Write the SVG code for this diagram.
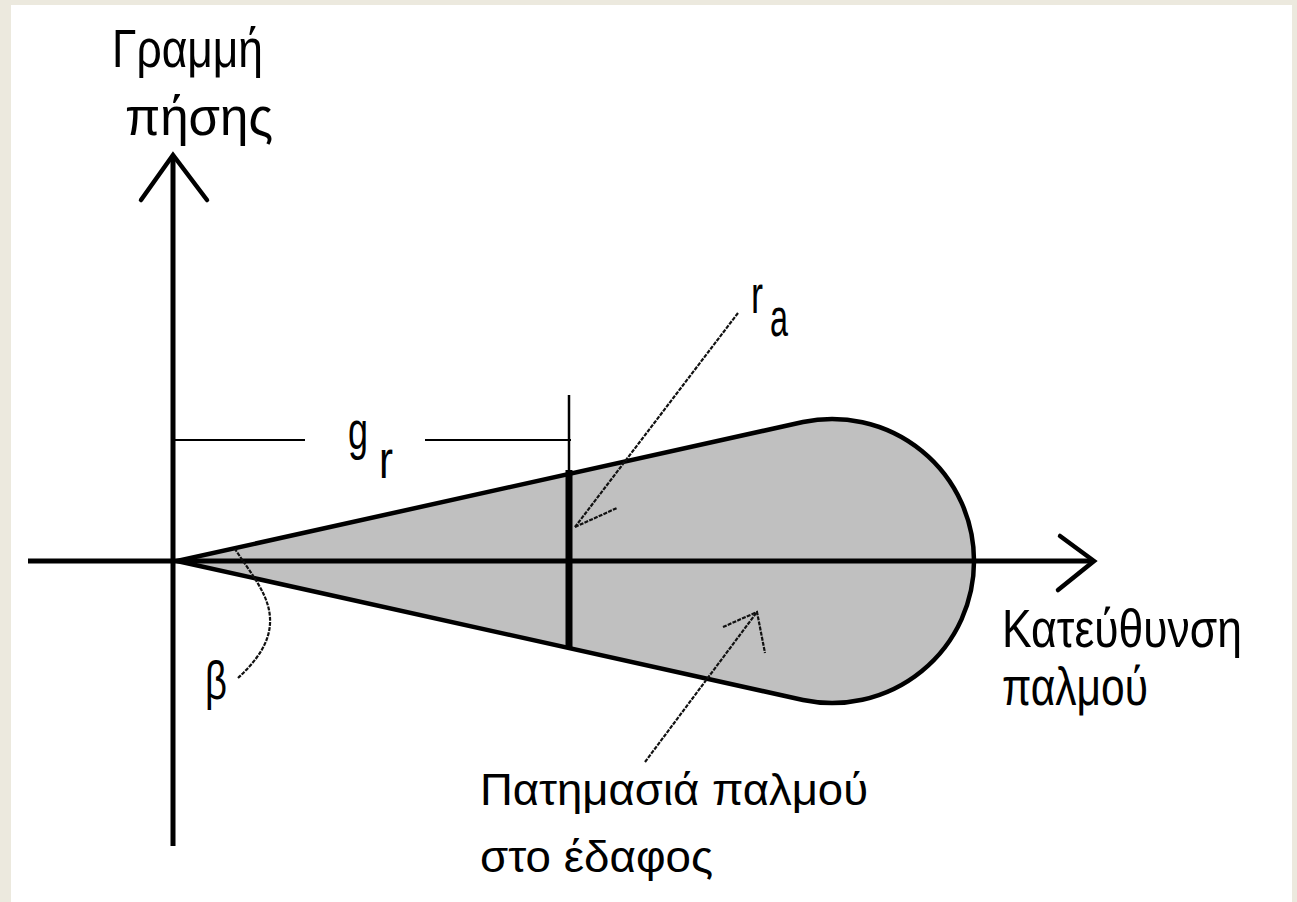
<svg xmlns="http://www.w3.org/2000/svg" width="1297" height="902" viewBox="0 0 1297 902">
  <style>
    .lbl { font-family: "Liberation Sans", "DejaVu Sans", sans-serif; fill: #000; }
    .big { font-size: 54px; }
    .small { font-size: 45px; }
    .axis { stroke: #000; stroke-width: 5; fill: none; }
    .head { stroke: #000; stroke-width: 4.5; fill: none; stroke-linecap: round; stroke-linejoin: miter; }
    .thin { stroke: #000; stroke-width: 2; fill: none; }
    .leader { stroke: #111; stroke-width: 2.2; fill: none; stroke-dasharray: 4 1.2; }
  </style>
  <rect x="0" y="0" width="1297" height="902" fill="#ECE9DE"/>
  <rect x="11" y="5" width="1281" height="897" fill="#FFFFFF"/>

  <g id="footprint">
    <path d="M177,561 L803,422 A142,142 0 1,1 803,700 Z" fill="#C0C0C0" stroke="#000" stroke-width="4.5" stroke-linejoin="round"/>
  </g>

  <g id="axis-horizontal">
    <line class="axis" x1="28" y1="561" x2="1092" y2="561"/>
    <polyline class="head" points="1060,536 1094,561 1058,590"/>
  </g>

  <g id="axis-vertical">
    <line class="axis" x1="173" y1="158" x2="173" y2="846"/>
    <polyline class="head" points="141,200 173,155 207,200"/>
  </g>

  <g id="range-bar">
    <line x1="569" y1="395" x2="569" y2="472" stroke="#000" stroke-width="2.5"/>
    <line x1="569" y1="470" x2="569" y2="648" stroke="#000" stroke-width="7"/>
  </g>

  <g id="gr-dimension">
    <line class="thin" x1="175" y1="440" x2="305" y2="440"/>
    <line class="thin" x1="425" y1="440" x2="571" y2="440"/>
    <text class="lbl big" x="348" y="449"><tspan textLength="20" lengthAdjust="spacingAndGlyphs">g</tspan><tspan x="379" y="478" textLength="14" lengthAdjust="spacingAndGlyphs">r</tspan></text>
  </g>

  <g id="connectors">
    <path class="leader" d="M738,313 L575,527"/>
    <path class="leader" d="M575,527 L617,508"/>
    <path class="leader" d="M645,762 L757,612"/>
    <path class="leader" d="M723,627 L757,612 L765,653"/>
    <path class="leader" d="M238,678 C255,662 275,640 269,610 C265,590 250,572 235,549"/>
  </g>

  <g id="label-track">
    <text class="lbl big" x="112" y="67" textLength="151" lengthAdjust="spacingAndGlyphs">Γραμμή</text>
    <text class="lbl big" x="125" y="135" textLength="148" lengthAdjust="spacingAndGlyphs">πήσης</text>
  </g>

  <g id="label-ra">
    <text class="lbl big" x="751" y="313"><tspan textLength="12" lengthAdjust="spacingAndGlyphs">r</tspan><tspan x="770" y="336" textLength="18" lengthAdjust="spacingAndGlyphs">a</tspan></text>
  </g>

  <g id="label-beta">
    <text class="lbl big" x="205" y="699" textLength="22" lengthAdjust="spacingAndGlyphs">β</text>
  </g>

  <g id="label-direction">
    <text class="lbl big" x="1002" y="647" textLength="240" lengthAdjust="spacingAndGlyphs">Κατεύθυνση</text>
    <text class="lbl big" x="1002" y="705" textLength="146" lengthAdjust="spacingAndGlyphs">παλμού</text>
  </g>

  <g id="label-footprint">
    <text class="lbl small" x="480" y="805" textLength="388" lengthAdjust="spacingAndGlyphs">Πατημασιά παλμού</text>
    <text class="lbl small" x="480" y="872" textLength="233" lengthAdjust="spacingAndGlyphs">στο έδαφος</text>
  </g>
</svg>
